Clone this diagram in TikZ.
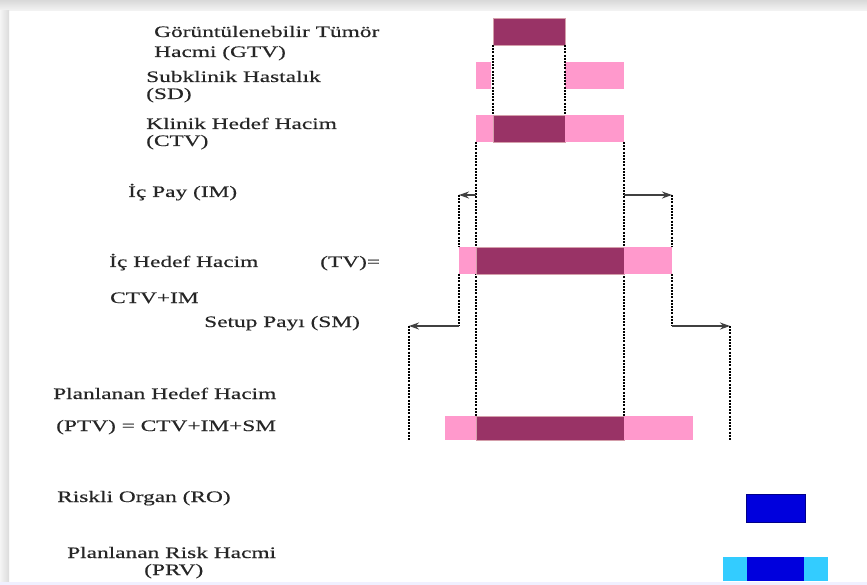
\documentclass[tikz,border=0pt]{standalone}
\usepackage{fontspec}
\setmainfont[FakeStretch=1.46,FakeBold=0.35]{Liberation Serif}
\usetikzlibrary{arrows.meta}
\definecolor{tumor}{HTML}{993366}
\definecolor{subcl}{HTML}{FF99CC}
\definecolor{organ}{HTML}{0000DD}
\definecolor{organedge}{HTML}{000088}
\definecolor{riskc}{HTML}{33CCFF}
\begin{document}
\begin{tikzpicture}[x=1pt,y=-1pt,
  lab/.style={anchor=base west, inner sep=0pt, font=\fontsize{16}{18}\selectfont, text=black!85},
  bar/.style={inner sep=0pt, outer sep=0pt, anchor=north west, draw=none, minimum height=27pt},
  darkbar/.style={bar, fill=tumor, draw=orange!15!tumor!50, line width=0.4pt},
  pinkbar/.style={bar, fill=subcl},
  dots/.style={dash pattern=on 2pt off 1.2pt, line width=2.4pt, black},
  arr/.style={-{Stealth[length=10pt,width=7pt]}, line width=1.3pt, black!75}]
\useasboundingbox (0,0) rectangle (867,585);
% frame
\fill[white] (0,0) rectangle (867,585);
\shade[top color=gray!30, bottom color=gray!8] (0,0) rectangle (867,11);
\shade[left color=gray!8, right color=gray!28] (0,11) rectangle (9,585);
\fill[blue!6] (0,582) rectangle (867,585);

% bars (positions)
\node[darkbar, minimum width=72pt] (gtv) at (493,18) {};
\node[pinkbar, minimum width=15pt] (sdL) at (476,62) {};
\node[pinkbar, minimum width=59pt] (sdR) at (565,62) {};
\node[pinkbar, minimum width=17pt] (ctvL) at (476,115) {};
\node[darkbar, minimum width=72pt] (ctvD) at (493,115) {};
\node[pinkbar, minimum width=59pt] (ctvR) at (565,115) {};

% dotted guides (drawn under the later bars)
\draw[dots] (gtv.south west) -- (ctvD.north west);
\draw[dots] (gtv.south east) -- (ctvD.north east);
\coordinate (ptvTL) at (476,416);
\coordinate (ptvTR) at (624,416);
\draw[dots] (ctvL.south west) -- (ptvTL);
\draw[dots] (ctvR.south east) -- (ptvTR);

% internal margin arrows
\coordinate (imL0) at (476,195);
\coordinate (imL1) at (459,195);
\coordinate (imR0) at (624,195);
\coordinate (imR1) at (672,195);
\draw[arr] (imL0) -- (imL1);
\draw[arr] (imR0) -- (imR1);

\node[pinkbar, minimum width=17pt] (tvL) at (459,247) {};
\node[darkbar, minimum width=148pt] (tvD) at (476,247) {};
\node[pinkbar, minimum width=48pt] (tvR) at (624,247) {};
\draw[dots] (imL1) -- (tvL.north west);
\draw[dots] (imR1) -- (tvR.north east);

% setup margin arrows
\coordinate (smL0) at (459,326);
\coordinate (smL1) at (409,326);
\coordinate (smL2) at (409,440);
\coordinate (smR0) at (672,326);
\coordinate (smR1) at (730,326);
\coordinate (smR2) at (730,440);
\draw[dots] (tvL.south west) -- (smL0);
\draw[arr] (smL0) -- (smL1);
\draw[dots] (smL1) -- (smL2);
\draw[dots] (tvR.south east) -- (smR0);
\draw[arr] (smR0) -- (smR1);
\draw[dots] (smR1) -- (smR2);

\node[pinkbar, minimum width=31pt, minimum height=24pt] (ptvL) at (445,416) {};
\node[darkbar, minimum width=148pt, minimum height=24pt] (ptvD) at (476,416) {};
\node[pinkbar, minimum width=69pt, minimum height=24pt] (ptvR) at (624,416) {};

% organs at risk
\node[bar, fill=organ, draw=organedge, line width=0.8pt, minimum width=59pt, minimum height=28pt] (ro) at (746,494) {};
\node[bar, fill=riskc, minimum width=24pt, minimum height=24pt] (prvL) at (723,557) {};
\node[bar, fill=riskc, minimum width=24pt, minimum height=24pt] (prvR) at (804,557) {};
\node[bar, fill=organ, minimum width=57pt, minimum height=24pt] (prvD) at (747,557) {};

% labels
\node[lab] (t1) at (154,37) {Görüntülenebilir Tümör};
\node[lab] (t2) at (154,57) {Hacmi (GTV)};
\node[lab] (t3) at (146,82) {Subklinik Hastalık};
\node[lab] (t4) at (146,99) {(SD)};
\node[lab] (t5) at (146,129) {Klinik Hedef Hacim};
\node[lab] (t6) at (146,146) {(CTV)};
\node[lab] (t7) at (128,197) {İç Pay (IM)};
\node[lab] (t8) at (109,267) {İç Hedef Hacim};
\node[lab] (t9) at (320,267) {(TV)=};
\node[lab] (t10) at (110,303) {CTV+IM};
\node[lab] (t11) at (204,327) {Setup Payı (SM)};
\node[lab] (t12) at (53,399) {Planlanan Hedef Hacim};
\node[lab] (t13) at (56,431) {(PTV) = CTV+IM+SM};
\node[lab] (t14) at (57,502) {Riskli Organ (RO)};
\node[lab] (t15) at (67,558) {Planlanan Risk Hacmi};
\node[lab] (t16) at (144,575) {(PRV)};
\end{tikzpicture}
\end{document}
